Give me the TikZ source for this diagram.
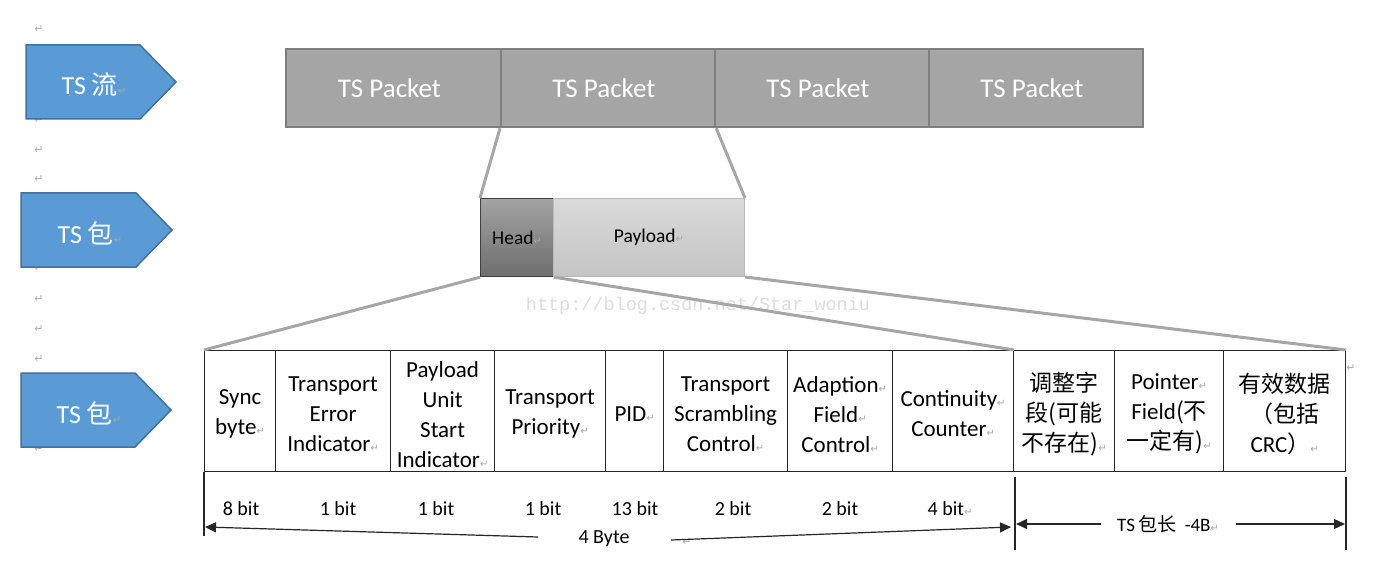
\documentclass[tikz,border=0pt]{standalone}
\usepackage{fontspec}
\setmainfont{Carlito}
\newfontfamily\cjk{Noto Sans CJK SC}
\newfontfamily\dvs{DejaVu Sans}
\newfontfamily\wmfont{Liberation Mono}
\usetikzlibrary{arrows.meta}
\definecolor{tsblue}{HTML}{5B9BD5}
\definecolor{tsblueb}{HTML}{41719C}
\definecolor{pktfill}{HTML}{A5A5A5}
\definecolor{pktline}{HTML}{7F7F7F}
\definecolor{connc}{HTML}{A6A6A6}
\definecolor{headtop}{HTML}{A3A3A3}
\definecolor{headbot}{HTML}{6E6E6E}
\definecolor{paytop}{HTML}{DADADA}
\definecolor{paybot}{HTML}{C4C4C4}
\definecolor{wmgray}{HTML}{DDDDDD}
\newcommand\rmk{{\dvs\fontsize{10}{10}\selectfont\color{gray!70}↵}}
\tikzset{
  tsarrow/.style={fill=tsblue, draw=tsblueb, line width=1.5pt},
  tslabel/.style={text=white, inner sep=0pt, font=\fontsize{26}{30}\selectfont},
  pkt/.style={draw=pktline, fill=pktfill, line width=2.2pt, minimum height=78pt, inner sep=0pt,
    anchor=north west, text=white, font=\fontsize{27}{30}\selectfont},
  hp/.style={minimum height=78pt, inner sep=0pt, anchor=north west, font=\fontsize{19.5}{22}\selectfont},
  connline/.style={draw=connc, line width=3pt},
  cell/.style={draw=black!85, line width=1.2pt, minimum height=121pt, inner sep=0pt, anchor=north west},
  celltext/.style={inner sep=0pt, align=center, font=\fontsize{23}{30}\selectfont},
  bits/.style={inner sep=0pt, font=\fontsize{20}{22}\selectfont},
  thinline/.style={draw=black!85, line width=1.2pt},
  dimarrow/.style={draw=black!85, line width=1.2pt, -{Triangle[length=11pt,width=10pt]}},
  pmark/.style={inner sep=0pt, text=gray!65, font=\dvs\fontsize{11}{11}\selectfont},
}
\begin{document}
\begin{tikzpicture}[x=1pt,y=-1pt]
\useasboundingbox[fill=white] (0,0) rectangle (1396,569);

% paragraph marks on the left
\foreach \yy [count=\i] in {29,120,150,179,268,299,329,359,449}
  \node[pmark] (m\i) at (39,\yy) {↵};

% left arrow labels
\draw[tsarrow] (26,45) -- (140,45) -- (176,82) -- (140,119) -- (26,119) -- cycle;
\draw[tsarrow] (21,193) -- (136,193) -- (172,230) -- (136,267) -- (21,267) -- cycle;
\draw[tsarrow] (21,373) -- (135,373) -- (171,410) -- (135,447) -- (21,447) -- cycle;
\node[tslabel] (l1) at (94,85) {TS {\cjk 流}\rmk};
\node[tslabel] (l2) at (90,233) {TS {\cjk 包}\rmk};
\node[tslabel] (l3) at (89,413) {TS {\cjk 包}\rmk};

% watermark
\node[text=wmgray, inner sep=0pt, font=\wmfont\fontsize{18.5}{20}\selectfont] (wm) at (698,306) {http://blog.csdn.net/Star\_woniu};

% TS packets
\node[pkt, minimum width=215pt] (p1) at (285,48) {TS Packet\rmk};
\node[pkt, minimum width=214pt] (p2) at (500,48) {TS Packet\rmk};
\node[pkt, minimum width=214pt] (p3) at (714,48) {TS Packet\rmk};
\node[pkt, minimum width=214pt] (p4) at (928,48) {TS Packet\rmk};

% head / payload
\node[hp, draw=black!75, line width=1.2pt, top color=headtop, bottom color=headbot, minimum width=73pt] (head) at (480,198) {Head\rmk};
\node[hp, draw=gray!55, line width=1pt, top color=paytop, bottom color=paybot, minimum width=191pt] (payload) at (553,198) {Payload\rmk};

% table cells
\node[cell, minimum width=71pt]  (c1)  at (204,350)  {};
\node[cell, minimum width=115pt] (c2)  at (275,350)  {};
\node[cell, minimum width=104pt] (c3)  at (390,350)  {};
\node[cell, minimum width=111pt] (c4)  at (494,350)  {};
\node[cell, minimum width=58pt]  (c5)  at (605,350)  {};
\node[cell, minimum width=124pt] (c6)  at (663,350)  {};
\node[cell, minimum width=105pt] (c7)  at (787,350)  {};
\node[cell, minimum width=121pt] (c8)  at (892,350)  {};
\node[cell, minimum width=101pt] (c9)  at (1013,350) {};
\node[cell, minimum width=109pt] (c10) at (1114,350) {};
\node[cell, minimum width=122pt] (c11) at (1223,350) {};
% cell texts
\node[celltext] (t1)  at ([yshift=-3pt]c1.center)  {Sync\\byte\rmk};
\node[celltext] (t2)  at ([yshift=-3pt]c2.center)  {Transport\\Error\\Indicator\rmk};
\node[celltext] (t3)  at ([yshift=-3pt]c3.center)  {Payload\\Unit\\Start\\Indicator\rmk};
\node[celltext] (t4)  at ([yshift=-3pt]c4.center)  {Transport\\Priority\rmk};
\node[celltext] (t5)  at ([yshift=-3pt]c5.center)  {PID\rmk};
\node[celltext] (t6)  at ([yshift=-3pt]c6.center)  {Transport\\Scrambling\\Control\rmk};
\node[celltext] (t7)  at ([yshift=-3pt]c7.center)  {Adaption\rmk\\Field\rmk\\Control\rmk};
\node[celltext] (t8)  at ([yshift=-3pt]c8.center)  {Continuity\rmk\\Counter\rmk};
\node[celltext] (t9)  at ([yshift=-3pt]c9.center)  {{\cjk 调整字}\\{\cjk 段(可能}\\{\cjk 不存在)}\rmk};
\node[celltext] (t10) at ([yshift=-3pt]c10.center) {Pointer\rmk\\Field{\cjk (不}\\{\cjk 一定有)}\rmk};
\node[celltext] (t11) at ([yshift=-3pt]c11.center) {{\cjk 有效数据}\\{\cjk （包括}\\CRC{\cjk ）}\rmk};
\node[pmark] (m10) at (1351,368) {↵};

% connectors
\draw[connline] (p2.south west) -- (head.north west);
\draw[connline] (p2.south east) -- (payload.north east);
\draw[connline] (head.south west) -- (c1.north west);
\draw[connline] (head.south east) -- (c8.north east);
\draw[connline] (payload.south east) -- (c11.north east);

% bit widths
\node[bits] (b1) at (241,509) {8 bit};
\node[bits] (b2) at (338,509) {1 bit};
\node[bits] (b3) at (436,509) {1 bit};
\node[bits] (b4) at (543,509) {1 bit};
\node[bits] (b5) at (635,509) {13 bit};
\node[bits] (b6) at (733,509) {2 bit};
\node[bits] (b7) at (840,509) {2 bit};
\node[bits] (b8) at (950,509) {4 bit\rmk};

% 4 Byte dimension
\coordinate (lb) at (204,536);
\draw[thinline] (c1.south west) -- (lb);
\node[bits] (byte) at (604,539) {4 Byte};
\node[pmark] (m11) at (687,542) {↵};
\coordinate (a1s) at (538,537);
\coordinate (a1e) at (205,527);
\coordinate (a2s) at (671,540);
\coordinate (a2e) at (1011,527);
\draw[dimarrow] (a1s) -- (a1e);
\draw[dimarrow] (a2s) -- (a2e);

% TS packet length - 4B dimension
\coordinate (r1t) at (1015,477);
\coordinate (r1b) at (1015,550);
\coordinate (r2t) at (1346,477);
\coordinate (r2b) at (1346,550);
\draw[thinline] (r1t) -- (r1b);
\draw[thinline] (r2t) -- (r2b);
\node[inner sep=0pt, font=\fontsize{19}{22}\selectfont] (tslen) at (1168,524) {TS\,{\cjk 包长}\ \ -4B\rmk};
\coordinate (a3s) at (1101,524);
\coordinate (a3e) at (1016,524);
\coordinate (a4s) at (1236,524);
\coordinate (a4e) at (1345,524);
\draw[dimarrow] (a3s) -- (a3e);
\draw[dimarrow] (a4s) -- (a4e);
\end{tikzpicture}
\end{document}
